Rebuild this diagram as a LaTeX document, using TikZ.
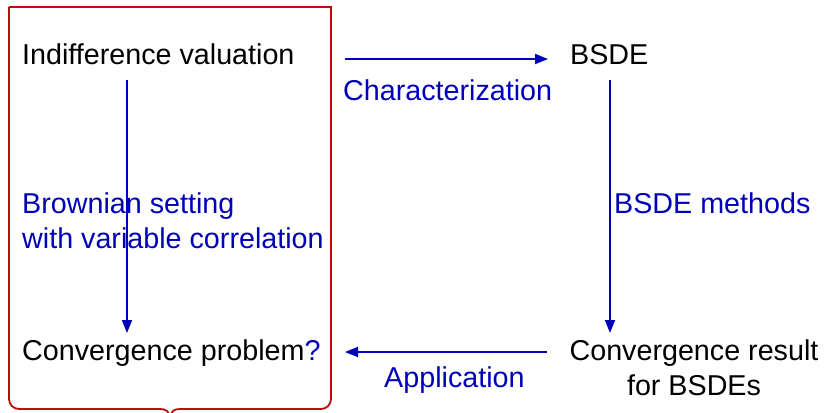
\documentclass[tikz,border=0pt]{standalone}
\usepackage{fontspec}
\setmainfont{Liberation Sans}
\usetikzlibrary{arrows.meta}
\definecolor{dblue}{RGB}{0,0,185}
\definecolor{dred}{RGB}{190,10,10}
\begin{document}
\begin{tikzpicture}[x=1pt,y=-1pt,
  lbl/.style={inner sep=0pt,font=\fontsize{28.7}{35}\selectfont},
  blbl/.style={lbl,text=dblue},
  conn/.style={draw=dblue,line width=1.8pt,-{Triangle[length=13pt,width=10pt]}},
  boxline/.style={draw=dred,line width=1.8pt}]
\useasboundingbox (0,0) rectangle (824,412);
% frame
\draw[boxline] (9,7) -- (331,7) -- (331,399) arc[start angle=0,end angle=90,radius=10] -- (180,409)
  .. controls (174,409) and (171,411) .. (170,418)
  .. controls (169,411) and (166,409) .. (160,409)
  -- (19,409) arc[start angle=90,end angle=180,radius=10] -- (9,7);
% nodes
\node[lbl,anchor=base west] (iv) at (22,65) {Indifference valuation};
\node[lbl,anchor=base west] (bsde) at (570,65) {BSDE};
\node[lbl,anchor=base west] (cp) at (22,360) {Convergence problem\textcolor{dblue}{?}};
\node[lbl,anchor=base,align=center] (cr) at (694,395) {Convergence result\\for BSDEs};
\node[blbl,anchor=base west] (char) at (343,100) {Characterization};
\node[blbl,anchor=base west,align=left] (brown) at (22,248) {Brownian setting\\with variable correlation};
\node[blbl,anchor=base west] (meth) at (614,213) {BSDE methods};
\node[blbl,anchor=base west] (app) at (384,387) {Application};
% connector ends
\coordinate (a1) at (345,59);
\coordinate (a2) at (548,59);
\coordinate (b1) at (127,80);
\coordinate (b2) at (127,333);
\coordinate (c1) at (610,80);
\coordinate (c2) at (610,333);
\coordinate (d1) at (547,352);
\coordinate (d2) at (345,352);
\draw[conn] (a1) -- (a2);
\draw[conn] (b1) -- (b2);
\draw[conn] (c1) -- (c2);
\draw[conn] (d1) -- (d2);
\end{tikzpicture}
\end{document}
